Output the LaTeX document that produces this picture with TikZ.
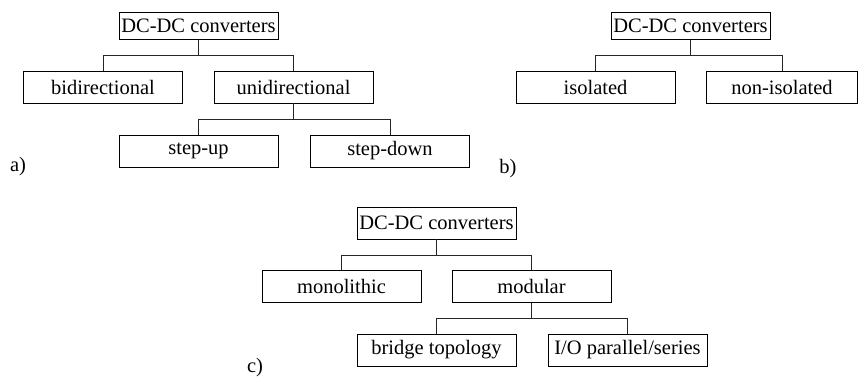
\documentclass[tikz,border=0pt]{standalone}
\usepackage{fontspec}
\setmainfont{Liberation Serif}
\usetikzlibrary{positioning,calc}

\newcommand{\treebus}[4]{%
  \draw[link] (#1.south) -- ++(0,#4) -| (#2.north);
  \draw[link] (#1.south) ++(0,#4) -| (#3.north);
}

\begin{document}
\begin{tikzpicture}[
        x=1pt, y=-1pt,
        box/.style={
          draw,
          line width=0.9pt,
          minimum width=159pt,
          minimum height=32pt,
          inner sep=0pt,
          align=center,
          font=\fontsize{20.5}{24}\selectfont
        },
        rootbox/.style={
          box,
          minimum height=26.5pt
        },
        link/.style={
          line width=0.8pt,
          black!85
        },
        tag/.style={
          font=\fontsize{20.5}{24}\selectfont
        }
      ]
      \useasboundingbox (0,0) rectangle (858,378);

      % a) direction of power flow
      \node[rootbox] (aroot) at (198.5,26) {DC-DC converters};
      \node[box] (abidir) at (103,87) {bidirectional};
      \node[box] (aunidir) at (293.5,87) {unidirectional};
      \node[box] (astepup) at (198.5,151) {step-up};
      \node[box] (astepdown) at (390,151) {step-down};
      \node[tag] (alabel) at (18,167) {a)};

      \treebus{aroot}{abidir}{aunidir}{16}
      \treebus{aunidir}{astepup}{astepdown}{16}

      % b) galvanic isolation
      \node[rootbox] (broot) at (690.5,26) {DC-DC converters};
      \node[box] (biso) at (595.5,87) {isolated};
      \node[box, minimum width=151pt] (bnoniso) at (782,87) {non-isolated};
      \node[tag] (blabel) at (508,169) {b)};

      \treebus{broot}{biso}{bnoniso}{16}

      % c) construction
      \node[box] (croot) at (436.5,223) {DC-DC converters};
      \node[box] (cmono) at (341.5,286.5) {monolithic};
      \node[box] (cmodular) at (531.5,286.5) {modular};
      \node[box] (cbridge) at (436.5,350) {bridge topology};
      \node[box] (cio) at (627.5,350) {I/O parallel/series};
      \node[tag] (clabel) at (255,368) {c)};

      \treebus{croot}{cmono}{cmodular}{15.5}
      \treebus{cmodular}{cbridge}{cio}{15.5}

      \end{tikzpicture}
\end{document}
